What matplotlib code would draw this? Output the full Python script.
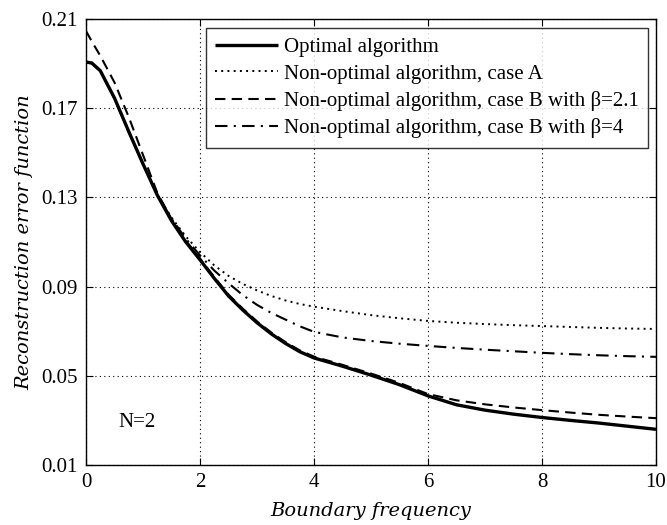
import matplotlib
matplotlib.use("Agg")
import matplotlib.pyplot as plt

# boundary frequency samples
freq = [0, 0.1, 0.25, 0.5, 0.75, 1.0, 1.25, 1.5, 1.75, 2.0, 2.25, 2.5, 2.75,
        3.0, 3.25, 3.5, 3.75, 4.0, 4.5, 5.0, 5.5, 6.0, 6.5, 7.0, 7.5, 8.0,
        8.5, 9.0, 9.5, 10.0]

err_optimal = [0.1907, 0.1903, 0.1868, 0.1745, 0.1595, 0.1450, 0.1310, 0.1195,
               0.1100, 0.1020, 0.0937, 0.0858, 0.0795, 0.0738, 0.0688, 0.0645,
               0.0608, 0.0580, 0.0543, 0.0503, 0.0460, 0.0410, 0.0370, 0.0346,
               0.0328, 0.0313, 0.0300, 0.0288, 0.0274, 0.0260]

err_case_a = [0.1905, 0.1901, 0.1866, 0.1742, 0.1592, 0.1448, 0.1312, 0.1210,
              0.1125, 0.1055, 0.0995, 0.0948, 0.0912, 0.0883, 0.0858, 0.0838,
              0.0822, 0.0810, 0.0790, 0.0772, 0.0758, 0.0746, 0.0738, 0.0732,
              0.0727, 0.0723, 0.0719, 0.0715, 0.0712, 0.0710]

err_beta21 = [0.2046, 0.2000, 0.1935, 0.1815, 0.1660, 0.1490, 0.1320, 0.1203,
              0.1107, 0.1026, 0.0943, 0.0864, 0.0801, 0.0744, 0.0694, 0.0651,
              0.0614, 0.0586, 0.0549, 0.0510, 0.0468, 0.0418, 0.0390, 0.0372,
              0.0358, 0.0346, 0.0335, 0.0325, 0.0317, 0.0310]

err_beta4 = [0.1905, 0.1901, 0.1866, 0.1742, 0.1592, 0.1448, 0.1312, 0.1205,
             0.1115, 0.1040, 0.0972, 0.0915, 0.0862, 0.0818, 0.0782, 0.0752,
             0.0722, 0.0697, 0.0672, 0.0656, 0.0644, 0.0634, 0.0625, 0.0617,
             0.0610, 0.0603, 0.0597, 0.0592, 0.0588, 0.0585]

labels = ["Optimal algorithm",
          "Non-optimal algorithm, case A",
          "Non-optimal algorithm, case B with \u03b2=2.1",
          "Non-optimal algorithm, case B with \u03b2=4"]

y_ticks = [0.01, 0.05, 0.09, 0.13, 0.17, 0.21]
x_ticks = [0, 2, 4, 6, 8, 10]

plt.rcParams["font.family"] = ["Liberation Serif", "DejaVu Serif"]

fig = plt.figure(figsize=(6.67, 5.25), dpi=100)
ax = fig.add_axes([0.129, 0.1143, 0.8545, 0.8495])

l_a, = ax.plot(freq, err_case_a, color="black", lw=1.4,
               linestyle=(0, (1, 2.2)), label=labels[1])
l_b21, = ax.plot(freq, err_beta21, color="black", lw=1.5,
                 linestyle=(0, (5, 3)), label=labels[2])
l_b4, = ax.plot(freq, err_beta4, color="black", lw=1.5,
                linestyle=(0, (6, 3, 1, 3)), label=labels[3])
l_opt, = ax.plot(freq, err_optimal, color="black", lw=2.4,
                 solid_capstyle="butt", label=labels[0])

ax.set_xlim(0, 10)
ax.set_ylim(0.01, 0.21)
ax.set_xticks(x_ticks)
ax.set_yticks(y_ticks)
ax.set_xticklabels([str(t) for t in x_ticks])
ax.set_yticklabels([f"{t:.2f}" for t in y_ticks])
ax.tick_params(direction="in", top=True, right=True, length=5, width=0.8,
               labelsize=15, pad=6, colors="black")
ax.grid(True, color="black", linestyle=(0, (1, 3)), linewidth=0.8)
for sp in ax.spines.values():
    sp.set_linewidth(1.0)

ax.set_xlabel("Boundary frequency", fontsize=14, style="italic",
              family="DejaVu Serif", labelpad=7)
ax.set_ylabel("Reconstruction error function", fontsize=14, style="italic",
              family="DejaVu Serif", labelpad=6)

ax.text(0.9, 0.0289, "N=2", fontsize=15, ha="center", va="center")

leg = ax.legend([l_opt, l_a, l_b21, l_b4], labels,
                loc="upper right", bbox_to_anchor=(0.986, 0.98), fontsize=15,
                frameon=True, fancybox=False, edgecolor="black",
                handlelength=3.0, handletextpad=0.3, borderpad=0.45,
                labelspacing=0.35, borderaxespad=0)
leg.get_frame().set_linewidth(1.0)

fig.savefig("out.png", dpi=100, facecolor="white")
